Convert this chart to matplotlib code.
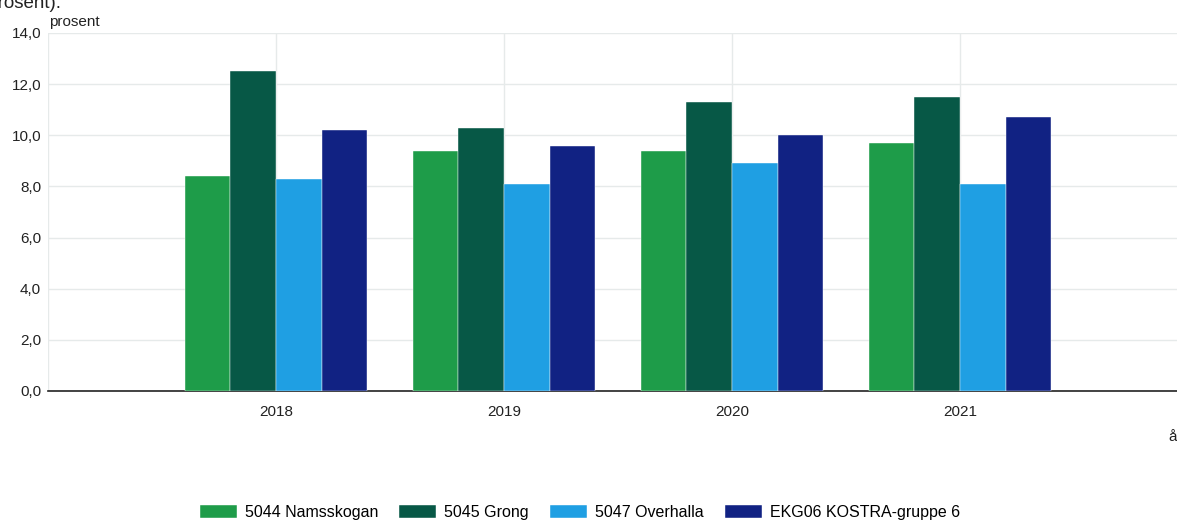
import numpy as np
import matplotlib.pyplot as plt
from matplotlib.ticker import FuncFormatter

plt.rcParams['font.family'] = ['Liberation Sans', 'DejaVu Sans']

years = ['2018', '2019', '2020', '2021']
series_names = ['5044 Namsskogan', '5045 Grong', '5047 Overhalla', 'EKG06 KOSTRA-gruppe 6']
namsskogan = [8.4, 9.4, 9.4, 9.7]
grong = [12.5, 10.3, 11.3, 11.5]
overhalla = [8.3, 8.1, 8.9, 8.1]
kostra6 = [10.2, 9.6, 10.0, 10.7]
colors = ['#1e9c49', '#075846', '#1f9fe3', '#112283']

W, H = 1177, 520
fig = plt.figure(figsize=(W / 100, H / 100), dpi=100)
# axes extends a bit past the right edge, as in the source
ax = fig.add_axes([48 / W, 1 - 391 / H, 1140 / W, 358 / H])

x = np.arange(len(years))
bw = 0.2
for i, (vals, name, c) in enumerate(zip([namsskogan, grong, overhalla, kostra6], series_names, colors)):
    ax.bar(x + (i - 1.5) * bw, vals, bw, color=c, label=name, zorder=3,
           edgecolor='white', linewidth=0.3)

ax.set_xlim(-1, 4)
ax.set_ylim(0, 14)
ax.set_yticks(np.arange(0, 15, 2))
ax.yaxis.set_major_formatter(FuncFormatter(lambda v, p: f'{v:.1f}'.replace('.', ',')))
ax.set_xticks(x)
ax.set_xticklabels(years)
ax.tick_params(axis='both', length=0, labelsize=11, colors='#222222')
ax.tick_params(axis='x', pad=10)
ax.tick_params(axis='y', pad=5)
ax.grid(True, color='#e6eaea', linewidth=1, zorder=0)
for s in ['top', 'right', 'left']:
    ax.spines[s].set_visible(False)
ax.axvline(-1, color='#e6eaea', linewidth=1, zorder=0)
ax.spines['bottom'].set_color('#222222')
ax.spines['bottom'].set_linewidth(1.2)

fig.text(62 / W, 1 - 8 / H, '(prosent).', ha='right', va='baseline', fontsize=13.5, color='#222222')
fig.text(49 / W, 1 - 26 / H, 'prosent', ha='left', va='baseline', fontsize=11, color='#222222')
fig.text(1168 / W, 1 - 441 / H, 'år', ha='left', va='baseline', fontsize=11, color='#222222')

fig.legend(loc='lower center', bbox_to_anchor=(580 / W, -0.028), ncol=4, frameon=False,
           fontsize=11.5, handlelength=2.3, handleheight=0.9, columnspacing=1.35, handletextpad=0.5)

fig.savefig('out.png', dpi=100)
